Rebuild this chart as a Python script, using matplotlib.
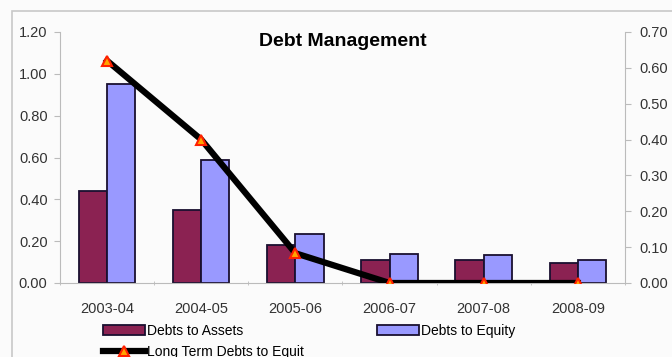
import matplotlib
matplotlib.use("Agg")
import matplotlib.pyplot as plt
from matplotlib.patches import Rectangle
import numpy as np

years = ["2003-04", "2004-05", "2005-06", "2006-07", "2007-08", "2008-09"]
debts_to_assets = [0.44, 0.35, 0.18, 0.11, 0.11, 0.095]
debts_to_equity = [0.95, 0.59, 0.235, 0.14, 0.135, 0.11]
lt_debts_to_equity = [0.62, 0.40, 0.083, 0.0, 0.0, 0.0]

plt.rcParams['font.family'] = ['Liberation Sans', 'DejaVu Sans']

fig = plt.figure(figsize=(6.72, 3.57), dpi=100, facecolor="#fbfbfb")
# outer chart border
fig.patches.append(Rectangle((12/672, -0.1), 1.0, 1 - 11/357 + 0.1,
                             transform=fig.transFigure, fill=False,
                             edgecolor="#c8c8c8", lw=1.2))

ax = fig.add_axes([60/672, 1 - 283/357, 565/672, 251/357])
ax.set_facecolor("none")
x = np.arange(len(years))
w = 0.3
ax.bar(x - w/2, debts_to_assets, w, color="#8b2252", edgecolor="#1a1030", lw=1.3,
       label="Debts to Assets")
ax.bar(x + w/2, debts_to_equity, w, color="#9999ff", edgecolor="#1a1030", lw=1.3,
       label="Debts to Equity")
ax.set_ylim(0, 1.2)
ax.set_xlim(-0.5, 5.5)
ax.set_yticks(np.arange(0, 1.21, 0.2))
ax.set_yticklabels(["%.2f" % v for v in np.arange(0, 1.21, 0.2)])
ax.set_xticks(x)
ax.set_xticklabels(years)
ax.set_xticks(np.arange(-0.5, 5.6, 1), minor=True)
ax.tick_params(axis="x", which="major", length=0, pad=14, labelsize=10.5, colors="#333333")
ax.tick_params(axis="x", which="minor", length=3, color="#bbbbbb", direction="inout")
ax.tick_params(axis="y", length=4, color="#bbbbbb", labelsize=10.5, labelcolor="#333333", pad=5)
for s in ["top", "right"]:
    ax.spines[s].set_visible(False)
ax.spines["left"].set_color("#bbbbbb")
ax.spines["bottom"].set_color("#bbbbbb")

ax2 = ax.twinx()
ax2.plot(x, lt_debts_to_equity, color="black", lw=4.5, marker="^", markersize=7,
         markerfacecolor="#ffa500", markeredgecolor="#ff2000", markeredgewidth=1.5,
         label="Long Term Debts to Equit", zorder=5)
ax2.set_ylim(0, 0.7)
ax2.set_yticks(np.arange(0, 0.71, 0.1))
ax2.set_yticklabels(["%.2f" % v for v in np.arange(0, 0.71, 0.1)])
ax2.tick_params(axis="y", length=4, color="#bbbbbb", labelsize=10.5, labelcolor="#333333", pad=6)
for s in ["top", "left", "bottom"]:
    ax2.spines[s].set_visible(False)
ax2.spines["right"].set_color("#bbbbbb")

ax.set_title("Debt Management", fontsize=14, fontweight="bold", y=0.91)

h1, l1 = ax.get_legend_handles_labels()
h2, l2 = ax2.get_legend_handles_labels()
leg_kw = dict(loc="upper left", frameon=False, fontsize=10, handlelength=3.0,
              handleheight=0.7, labelspacing=0.5, handletextpad=0.2,
              borderpad=0, borderaxespad=0)
leg1 = fig.legend([h1[0], h2[0]], [l1[0], l2[0]],
                  bbox_to_anchor=(103/672, 1 - 324/357), **leg_kw)
leg2 = fig.legend([h1[1]], [l1[1]],
                  bbox_to_anchor=(377/672, 1 - 324/357), **leg_kw)

fig.savefig("out.png", dpi=100, facecolor=fig.get_facecolor())
